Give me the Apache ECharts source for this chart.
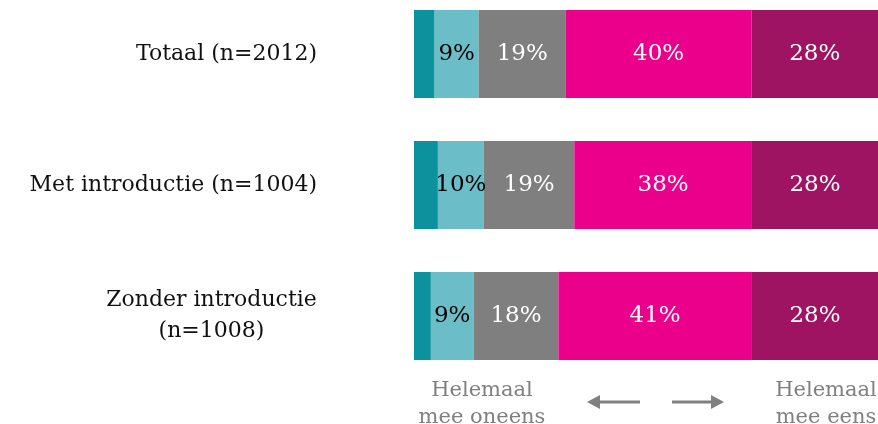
<!DOCTYPE html>
<html>
<head>
<meta charset="utf-8">
<script src="https://cdn.jsdelivr.net/npm/echarts@6/dist/echarts.min.js"></script>
<style>
  html, body { margin: 0; padding: 0; background: #fff; }
  #main { width: 878px; height: 424px; }
</style>
</head>
<body>
<div id="main"></div>
<script>
// groepen (van boven naar onder)
const categories = ['Totaal (n=2012)', 'Met introductie (n=1004)', 'Zonder introductie\n(n=1008)'];

// aandelen per antwoord, in procenten
const helemaalOneens = [4.4, 5.1, 3.6];
const oneens = [9.4, 9.8, 9.1];
const neutraal = [18.6, 19.3, 18.1];
const eens = [39.6, 37.9, 41.3];
const helemaalEens = [28, 28, 28];

const serif = 'DejaVu Serif';

// breedte van de langste regel, voor het centreren van de tweeregelige label
const ctx = document.createElement('canvas').getContext('2d');
ctx.font = '22px "' + serif + '"';
const lineW = Math.ceil(ctx.measureText('Zonder introductie').width);

const chart = echarts.init(document.getElementById('main'));

function seg(name, data, color, labelColor, showLabel) {
  return {
    name: name,
    type: 'bar',
    stack: 'totaal',
    barWidth: 88,
    data: data,
    itemStyle: { color: color },
    label: {
      show: showLabel,
      position: 'inside',
      color: labelColor,
      fontFamily: serif,
      fontSize: 23,
      formatter: p => Math.round(p.value) + '%'
    },
    emphasis: { disabled: true }
  };
}

const option = {
  animation: false,
  backgroundColor: '#ffffff',
  // boundaryGap uit: de balken staan op de ticks, zo liggen de rijen precies
  grid: { left: 414, right: 0, top: 54, height: 262 },
  // het origineel loopt net buiten beeld door, daarom max iets onder 100
  xAxis: { type: 'value', min: 0, max: 99, show: false },
  yAxis: {
    type: 'category',
    inverse: true,
    boundaryGap: false,
    data: categories,
    axisLine: { show: false },
    axisTick: { show: false },
    splitLine: { show: false },
    axisLabel: {
      margin: 97,
      color: '#111111',
      fontFamily: serif,
      fontSize: 22,
      lineHeight: 31,
      formatter: v => v.indexOf('\n') < 0 ? v : v.split('\n').map(l => '{c|' + l + '}').join('\n'),
      rich: {
        c: { width: lineW, align: 'center', color: '#111111', fontFamily: serif, fontSize: 22, lineHeight: 31 }
      }
    }
  },
  series: [
    seg('Helemaal mee oneens', helemaalOneens, '#0b929c', '#000', false),
    seg('Mee oneens', oneens, '#6bbec8', '#000000', true),
    seg('Neutraal', neutraal, '#7f7f7f', '#ffffff', true),
    seg('Mee eens', eens, '#ea008b', '#ffffff', true),
    seg('Helemaal mee eens', helemaalEens, '#9e1462', '#ffffff', true)
  ],
  graphic: [
    {
      type: 'text', x: 482, y: 377,
      style: { text: 'Helemaal\nmee oneens', textAlign: 'center', fill: '#808080', font: '21px "DejaVu Serif"', lineHeight: 27 }
    },
    {
      type: 'text', x: 826, y: 377,
      style: { text: 'Helemaal\nmee eens', textAlign: 'center', fill: '#808080', font: '21px "DejaVu Serif"', lineHeight: 27 }
    },
    { type: 'line', shape: { x1: 598, y1: 402, x2: 640, y2: 402 }, style: { stroke: '#808080', lineWidth: 3 } },
    { type: 'polygon', shape: { points: [[587, 402], [600, 395], [600, 409]] }, style: { fill: '#808080' } },
    { type: 'line', shape: { x1: 672, y1: 402, x2: 713, y2: 402 }, style: { stroke: '#808080', lineWidth: 3 } },
    { type: 'polygon', shape: { points: [[724, 402], [711, 395], [711, 409]] }, style: { fill: '#808080' } }
  ]
};

chart.setOption(option);
</script>
</body>
</html>
